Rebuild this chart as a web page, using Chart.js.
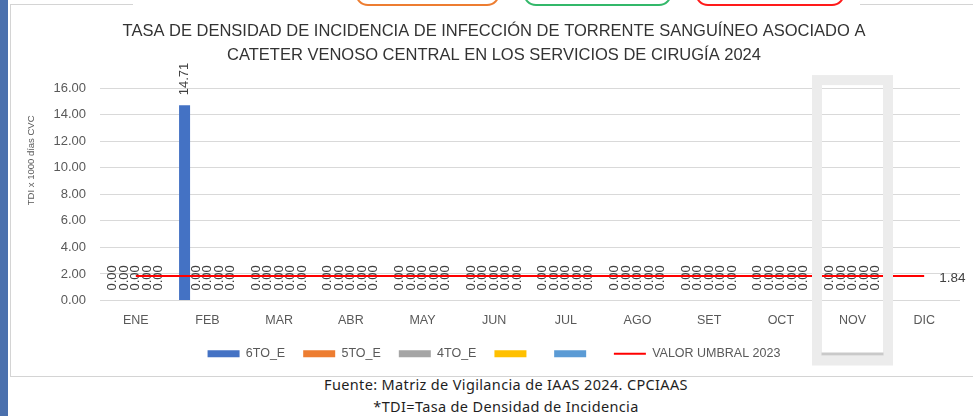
<!DOCTYPE html>
<html lang="es">
<head>
<meta charset="utf-8">
<title>TDI CVC Cirugía 2024</title>
<script src="https://cdn.jsdelivr.net/npm/chart.js@4.4.1/dist/chart.umd.min.js"></script>
<style>
  html, body { margin: 0; padding: 0; background: #fff; }
  body { width: 973px; height: 416px; position: relative; overflow: hidden; }
  .franja { position: absolute; left: 0; top: 0; width: 8px; height: 416px; background: #4a70ad; }
  .marco { position: absolute; left: 10px; top: 5px; width: 990px; height: 371px;
           border-left: 1px solid #d4d4d4; border-bottom: 1px solid #d4d4d4; }
  .linea-top { position: absolute; top: 4px; height: 1px; background: #d4d4d4; }
  .pill { position: absolute; top: -20px; height: 22px; border: 2px solid; border-radius: 13px; }
  #wrap { position: absolute; left: 10px; top: 5px; width: 963px; height: 395px; }
  .fuente { position: absolute; left: 206px; width: 600px; text-align: center;
            font-family: "Noto Sans", sans-serif; font-size: 14.5px; letter-spacing: 0.35px; color: #1e1e1e; }
</style>
</head>
<body>
<div class="franja"></div>
<div class="marco"></div>
<div class="linea-top" style="left:10px;width:123px"></div>
<div class="linea-top" style="left:860px;width:113px"></div>
<div class="pill" style="left:355px;width:141px;border-color:#ed7d31"></div>
<div class="pill" style="left:523px;width:145px;border-color:#33b86a"></div>
<div class="pill" style="left:695px;width:146px;border-color:#ff1a1a"></div>
<div class="fuente" style="top:374px">Fuente: Matriz de Vigilancia de IAAS 2024. CPCIAAS</div>
<div class="fuente" style="top:396px">*TDI=Tasa de Densidad de Incidencia</div>
<div id="wrap"><canvas id="grafico"></canvas></div>

<script>
// datos
const meses = ["ENE", "FEB", "MAR", "ABR", "MAY", "JUN", "JUL", "AGO", "SET", "OCT", "NOV", "DIC"];
const sextoE = [0, 14.71, 0, 0, 0, 0, 0, 0, 0, 0, 0, null];
const quintoE = [0, 0, 0, 0, 0, 0, 0, 0, 0, 0, 0, null];
const cuartoE = [0, 0, 0, 0, 0, 0, 0, 0, 0, 0, 0, null];
const serieAmarilla = [0, 0, 0, 0, 0, 0, 0, 0, 0, 0, 0, null];
const serieCeleste = [0, 0, 0, 0, 0, 0, 0, 0, 0, 0, 0, null];
const umbral2023 = [1.84, 1.84, 1.84, 1.84, 1.84, 1.84, 1.84, 1.84, 1.84, 1.84, 1.84, 1.84];
const ticksY = [0, 2, 4, 6, 8, 10, 12, 14, 16];
const mesResaltado = "NOV";

const GRIS_TEXTO = "#595959";
Chart.defaults.font.family = "'Liberation Sans', Arial, sans-serif";
Chart.defaults.color = GRIS_TEXTO;

// etiquetas rotadas sobre cada barra
const etiquetasBarras = {
  id: "etiquetasBarras",
  afterDatasetDraw(chart, args) {
    const ds = chart.data.datasets[args.index];
    if (ds.type === "line") return;
    const ctx = chart.ctx;
    ctx.save();
    ctx.font = "13px 'Liberation Sans', Arial, sans-serif";
    ctx.fillStyle = "#404040";
    ctx.textAlign = "left";
    ctx.textBaseline = "middle";
    args.meta.data.forEach((bar, i) => {
      const v = ds.data[i];
      if (v === null || v === undefined) return;
      ctx.save();
      ctx.translate(bar.x, bar.y - 10);
      ctx.rotate(-Math.PI / 2);
      ctx.fillText(v.toFixed(2), 0, 0);
      ctx.restore();
    });
    ctx.restore();
  },
};

// valor del umbral al final de la línea, título eje Y y marco de NOV
const extras = {
  id: "extras",
  afterDraw(chart) {
    const ctx = chart.ctx;
    const area = chart.chartArea;
    const x = chart.scales.x;

    // etiqueta 1.84
    const idxLinea = chart.data.datasets.findIndex((d) => d.type === "line");
    const pts = chart.getDatasetMeta(idxLinea).data;
    const ult = pts[pts.length - 1];
    ctx.save();
    ctx.font = "13.5px 'Liberation Sans', Arial, sans-serif";
    ctx.fillStyle = "#404040";
    ctx.textBaseline = "middle";
    ctx.fillText(umbral2023[umbral2023.length - 1].toFixed(2), ult.x + 15, ult.y + 2);

    // título eje Y
    ctx.font = "9.5px 'Liberation Sans', Arial, sans-serif";
    ctx.fillStyle = GRIS_TEXTO;
    ctx.textAlign = "center";
    ctx.translate(21, area.top + (area.bottom - area.top) * 0.34);
    ctx.rotate(-Math.PI / 2);
    ctx.fillText("TDI x 1000 días CVC", 0, 0);
    ctx.restore();

    // marco de selección sobre NOV
    const cx = x.getPixelForValue(meses.indexOf(mesResaltado));
    const top = area.top - 13;
    const bottom = area.bottom + 65;
    ctx.save();
    ctx.strokeStyle = "#ececec";
    ctx.lineWidth = 10;
    ctx.strokeRect(cx - 35.5, top + 5, 71, bottom - top - 10);
    ctx.fillStyle = "#c9c9c9";
    ctx.fillRect(cx - 31, bottom - 13, 62, 3);
    ctx.restore();
  },
};

function serieBarra(label, data, color) {
  return {
    type: "bar",
    label,
    data,
    backgroundColor: color,
    pointStyle: "rect",
    categoryPercentage: 0.8,
    barPercentage: 0.96,
    order: 1,
  };
}

new Chart(document.getElementById("grafico"), {
  data: {
    labels: meses,
    datasets: [
      serieBarra("6TO_E", sextoE, "#4472c4"),
      serieBarra("5TO_E", quintoE, "#ed7d31"),
      serieBarra("4TO_E", cuartoE, "#a5a5a5"),
      serieBarra(" ", serieAmarilla, "#ffc000"),
      serieBarra(" ", serieCeleste, "#5b9bd5"),
      {
        type: "line",
        label: "VALOR UMBRAL 2023",
        data: umbral2023,
        borderColor: "#ff0000",
        backgroundColor: "#ff0000",
        borderWidth: 2,
        pointRadius: 0,
        pointBorderWidth: 2,
        pointStyle: "line",
        order: 0,
      },
    ],
  },
  options: {
    responsive: true,
    maintainAspectRatio: false,
    animation: false,
    layout: { padding: { left: 18, right: 13, top: 0, bottom: 30 } },
    plugins: {
      title: {
        display: true,
        text: [
          "TASA DE DENSIDAD DE INCIDENCIA DE INFECCIÓN DE TORRENTE SANGUÍNEO ASOCIADO A",
          "CATETER VENOSO CENTRAL EN LOS SERVICIOS DE CIRUGÍA 2024",
        ],
        color: "#333333",
        font: { size: 16.5, weight: "normal", lineHeight: 1.5 },
        padding: { top: 13.6, bottom: 20 },
      },
      legend: {
        position: "bottom",
        labels: {
          usePointStyle: true,
          pointStyleWidth: 32,
          boxHeight: 7,
          padding: 18,
          color: GRIS_TEXTO,
          font: { size: 12.5 },
          sort: (a, b) => a.datasetIndex - b.datasetIndex,
        },
      },
      tooltip: { enabled: false },
    },
    scales: {
      x: {
        grid: { display: false, drawTicks: false },
        border: { display: false },
        afterFit(scale) {
          scale.height = scale.height - 11;
        },
        ticks: { padding: 12.5, font: { size: 12.5 }, color: GRIS_TEXTO },
      },
      y: {
        min: ticksY[0],
        max: ticksY[ticksY.length - 1],
        afterFit(scale) {
          scale.width = 72;
        },
        afterBuildTicks(scale) {
          scale.ticks = ticksY.map((v) => ({ value: v }));
        },
        grid: { color: "#d9d9d9", drawTicks: false },
        border: { display: false },
        ticks: {
          padding: 14,
          font: { size: 13 },
          color: GRIS_TEXTO,
          callback: (v) => Number(v).toFixed(2),
        },
      },
    },
  },
  plugins: [etiquetasBarras, extras],
});
</script>
</body>
</html>
